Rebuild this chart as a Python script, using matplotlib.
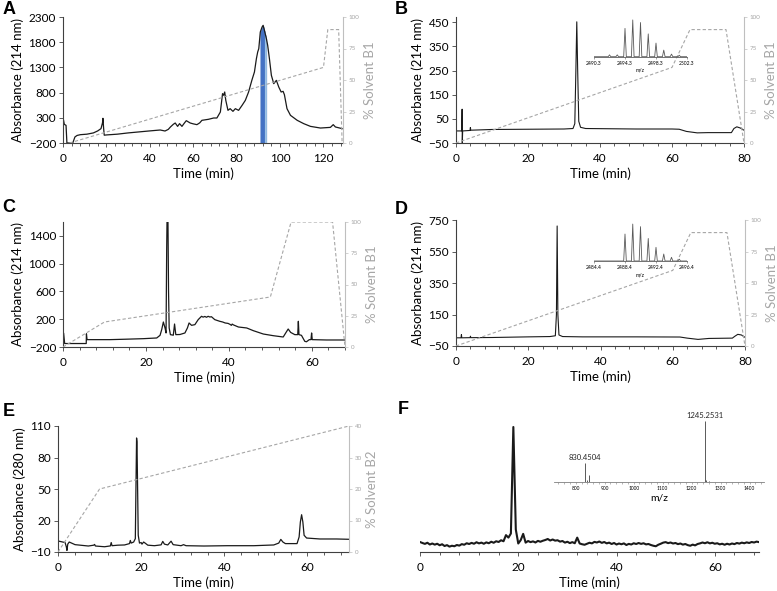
import numpy as np
import matplotlib
matplotlib.use("Agg")
import matplotlib.pyplot as plt
from matplotlib.ticker import MultipleLocator, FixedLocator

plt.rcParams['font.family'] = ['Lato', 'DejaVu Sans']

W, H = 777, 591

# ---- A: prep HPLC, 214 nm ----
A_time = [0, 0.2, 0.6, 1.4, 1.8, 4.5, 5.5, 6.5, 8, 11, 14, 16, 17.5, 18.2, 18.4,
          18.7, 19.0, 20, 25, 30, 35, 40, 44.8, 47, 48.5, 49.5, 50.8, 51.7, 52.8, 53.7,
          54.8, 56, 56.8, 58.6, 60, 61.7, 63, 64, 67, 69.4, 70.9, 72.5, 73.5, 74, 74.5,
          75, 76, 77, 78.3, 79.4, 80.9, 82.5, 84, 85.5, 87, 88.2, 89.1, 89.7, 90.2, 90.9,
          91.7, 92.2, 92.8, 93.7, 94.3, 95.1, 96, 97.1, 98.3, 99.4, 100.5, 101.4, 102,
          103.2, 104.8, 107.9, 110.9, 114, 118.6, 123.2, 124.5, 125.5, 128.6]
A_abs = [-100, 260, 170, 150, -200, -200, -80, -50, -35, -25, 0, 40, 85, 200, 290,
         100, -45, -40, -25, 0, 20, 40, 58, 38, 70, 118, 170, 197, 130, 184,
         130, 200, 243, 197, 180, 164, 200, 250, 270, 296, 296, 415, 779, 746, 812,
         646, 448, 481, 428, 481, 448, 547, 646, 812, 1043, 1209, 1473, 1606, 1672, 2002,
         2100, 2135, 2035, 1870, 1738, 1473, 1143, 977, 1043, 911, 812, 825, 759,
         481, 349, 250, 184, 130, 97, 110, 164, 118, 85]
A_fraction = (90.9, 93.7)
A_grad_t = [3, 120, 122, 127, 128.6]
A_grad_b = [0, 60, 90, 90, 0]

# ---- B: analytical, purified ----
B_time = [0, 1.6, 1.7, 1.75, 1.85, 3.9, 4.0, 4.1, 10, 20, 30, 32.5, 33.0, 33.3, 33.55,
          33.8, 34.1, 34.6, 36, 50, 60, 62, 64, 67, 70, 76.5, 77.2, 78, 79, 80]
B_abs = [0, 0, 90, -50, 0, 2, 14, 3, 6, 7, 8, 10, 30, 250, 452,
         250, 40, 15, 10, 8, 8, 7, -2, -8, -7, -7, 10, 17, 12, 3]
B_grad_t = [0, 60, 65, 75, 80]
B_grad_b = [0, 60, 90, 90, 0]
B_ms_mz = [2492.3, 2493.3, 2494.3, 2495.3, 2496.3, 2497.3, 2498.3, 2499.3, 2500.3, 2501.3]
B_ms_int = [5, 5, 77, 100, 93, 62, 37, 18, 7, 4]
B_ms_ticks = [2490.3, 2494.3, 2498.3, 2502.3]

# ---- C ----
C_time = [0, 0.15, 0.4, 5.6, 5.65, 5.8, 11.3, 15, 19.4, 22.6, 23.4, 23.8, 24.2, 24.6,
          24.85, 25.0, 25.1, 25.3, 25.45, 25.6, 25.9, 26.6, 26.9, 27.2, 28.2, 29.4,
          30.0, 30.4, 31.0, 31.8, 32.6, 33.4, 33.8, 34.2, 34.6, 35.0, 35.4, 35.8, 36.6,
          37.8, 38.5, 39.1, 39.8, 40.3, 40.6, 40.8, 41.1, 42.3, 44.3, 45.9, 48.3, 50.7,
          53.1, 53.7, 54.3, 54.9, 55.9, 56.6, 56.75, 56.9, 57.5, 58.3, 58.7, 59.4, 59.8,
          59.95, 60.1, 63.5, 68]
C_abs = [-100, 0, -150, -150, -10, -94, -94, -88, -80, -70, -32, 50, 160, 74,
         2, 1200, 1700, 1700, 600, 74, -22, -30, 131, -22, -20, 2,
         74, 146, 112, 122, 194, 242, 230, 240, 228, 242, 232, 236, 194,
         170, 160, 146, 140, 125, 112, 130, 118, 88, 74, 35, -13, -37,
         -56, 2, 59, 10, -22, -22, 170, -22, -32, -118, -125, -94, -94,
         2, -94, -99, -99]
C_grad_t = [0, 10, 50, 55, 65, 68]
C_grad_b = [0, 20, 40, 100, 100, 0]

# ---- D ----
D_time = [0, 1.4, 1.5, 1.6, 3.9, 4.0, 4.1, 10, 20, 26, 27.5, 27.8, 28.0, 28.2, 28.5,
          29.5, 35, 50, 62, 64, 67, 70, 76.5, 77.2, 78, 79, 80]
D_abs = [2, 2, 22, 2, 3, 12, 3, 4, 8, 10, 15, 150, 712, 150, 20,
         10, 8, 8, 7, 0, -8, -2, 0, 12, 24, 20, 5]
D_grad_t = [0, 60, 65, 75, 80]
D_grad_b = [0, 60, 90, 90, 0]
D_ms_mz = [2488.4, 2489.4, 2490.4, 2491.4, 2492.4, 2493.4, 2494.4, 2495.4]
D_ms_int = [73, 100, 93, 61, 37, 19, 10, 5]
D_ms_ticks = [2484.4, 2488.4, 2492.4, 2496.4]

# ---- E: 280 nm ----
E_time = [0, 1.7, 2.0, 2.15, 2.35, 2.7, 4.1, 7.3, 8.6, 8.8, 9.0, 11.2, 12.6, 12.8, 13.0,
          14.4, 16, 17.2, 17.4, 17.6, 18.2, 18.6, 18.9, 19.0, 19.3, 19.6, 20.0, 20.2,
          20.6, 20.95, 21.6, 23.2, 24.8, 25.2, 25.6, 26.4, 27.2, 27.7, 29.6, 30.2, 30.8,
          35.1, 40.7, 47.1, 51.9, 53.1, 53.6, 54.1, 54.7, 57.5, 58.0, 58.3, 58.6, 58.9,
          59.2, 59.8, 63, 67, 70]
E_abs = [0.5, -1, -5, -8.5, -2.5, -0.5, -3, -4.3, -3.5, -2.8, -4.3, -5, -4.2, -1.0, -4.0,
         -3.5, -3.3, -2.0, 1.0, -1.5, -0.5, 2.7, 98.6, 95, 6, -1.5, -1, -2.5,
         -0.5, -1.5, -3.5, -4, -3.2, 0.1, -2.5, -3.3, 0.3, -3, -4, -3, -4,
         -4.3, -4, -4, -3.3, -1.5, 2, -0.5, -2, -2, 4.3, 18.6, 25.5, 18.6,
         5.9, 3.3, 2.4, 2.4, 2.1]
E_grad_t = [0, 10, 70]
E_grad_b = [0, 20, 40]

# ---- F: LC-MS trace, sampled every 0.5 min ----
F_signal = [8.0, 7.2, 6.5, 7.4, 6.0, 6.8, 5.9, 6.6, 5.4, 6.2,
            4.8, 5.5, 4.3, 5.0, 4.6, 5.6, 5.1, 6.3, 5.8, 7.0,
            6.4, 7.3, 6.6, 7.8, 6.9, 7.5, 6.6, 7.7, 7.0, 8.2,
            7.4, 8.6, 8.0, 9.4, 8.6, 13.5, 11.5, 14.8, 100, 18,
            6.8, 9.5, 14.5, 7.5, 8.8, 7.9, 8.5, 7.6, 8.9, 8.2,
            9.0, 9.6, 10.4, 9.2, 10.0, 9.1, 9.4, 8.3, 8.8, 7.5,
            8.2, 7.1, 7.9, 7.0, 11.5, 6.8, 6.2, 5.8, 6.6, 7.4,
            6.9, 8.1, 7.6, 8.4, 7.3, 8.0, 6.9, 7.5, 6.4, 7.2,
            6.0, 6.8, 6.2, 6.9, 5.6, 6.5, 6.0, 7.0, 6.4, 7.2,
            6.5, 7.0, 6.1, 6.4, 5.6, 5.0, 4.6, 5.8, 6.6, 7.5,
            7.9, 7.1, 7.6, 6.8, 7.2, 6.3, 6.8, 5.9, 6.4, 5.5,
            5.0, 5.9, 5.3, 6.4, 6.9, 7.6, 7.0, 7.8, 6.9, 7.4,
            6.6, 7.0, 6.1, 6.6, 5.8, 6.6, 6.0, 6.8, 6.3, 7.2,
            6.7, 7.5, 7.0, 7.7, 7.2, 8.0, 7.6, 8.3, 7.9]
F_time = np.arange(len(F_signal)) * 0.5
F_ms_mz = [830.45, 838, 845.5, 1245.25, 1251, 1259]
F_ms_int = [31, 3, 12, 100, 3, 1.5]
F_ms_labels = {830.45: "830.4504", 1245.25: "1245.2531"}

TRACE = '#1a1a1a'
GRAD = '#a6a6a6'
RGRAY = '#a6a6a6'

fig = plt.figure(figsize=(W / 100, H / 100), dpi=100)


def add_px(left, top, right, bottom):
    return fig.add_axes([left / W, 1 - bottom / H, (right - left) / W, (bottom - top) / H])


def chrom(box, xmax, ylim, yticks, ylabel, rmax, rstep, rlabel, xticks):
    ax = add_px(*box)
    ax.set_xlim(0, xmax)
    ax.set_ylim(*ylim)
    ax.set_yticks(yticks)
    ax.xaxis.set_major_locator(FixedLocator(xticks))
    ax.xaxis.set_minor_locator(MultipleLocator(4))
    for s in ['top', 'right']:
        ax.spines[s].set_visible(False)
    ax.spines['left'].set_color('#404040')
    ax.spines['bottom'].set_color('#404040')
    ax.spines['left'].set_linewidth(0.8)
    ax.spines['bottom'].set_linewidth(0.8)
    ax.tick_params(which='both', direction='out', width=0.6, color='#404040')
    ax.tick_params(which='major', length=3, labelsize=8.5, pad=2)
    ax.tick_params(axis='x', which='minor', length=2.5)
    ax.tick_params(axis='x', which='major', pad=4)
    ax.set_xlabel('Time (min)', fontsize=9.5, labelpad=3)
    ax.set_ylabel(ylabel, fontsize=9.5, labelpad=3)
    ax2 = ax.twinx()
    ax2.set_ylim(0, rmax)
    ax2.set_yticks(np.arange(0, rmax + 1, rstep))
    for s in ['top', 'left', 'bottom']:
        ax2.spines[s].set_visible(False)
    ax2.spines['right'].set_color('#bfbfbf')
    ax2.spines['right'].set_linewidth(0.8)
    ax2.tick_params(axis='y', direction='out', length=2, width=0.5, color='#bfbfbf',
                    labelsize=4.5, labelcolor=RGRAY, pad=2)
    ax2.set_ylabel(rlabel, fontsize=9.5, color=RGRAY, labelpad=3)
    return ax, ax2


def ms_inset(box, mz, inten, ticks, ymax, half=0.17):
    ax = add_px(*box)
    ax.patch.set_visible(False)
    xs, ys = [ticks[0]], [0]
    for m, h in zip(mz, inten):
        xs += [m - half, m, m + half]
        ys += [0, h, 0]
    xs.append(ticks[-1])
    ys.append(0)
    ax.plot(xs, ys, color='#595959', lw=0.6)
    ax.set_xlim(ticks[0], ticks[-1])
    ax.set_ylim(0, ymax)
    for s in ['top', 'right', 'left']:
        ax.spines[s].set_visible(False)
    ax.spines['bottom'].set_color('#595959')
    ax.spines['bottom'].set_linewidth(0.6)
    ax.set_yticks([])
    ax.set_xticks(ticks)
    ax.set_xticklabels(['%.1f' % t for t in ticks])
    ax.tick_params(axis='x', length=1.5, width=0.4, color='#595959', labelsize=3.6, pad=1.5)
    ax.set_xlabel('m/z', fontsize=3.8, labelpad=1.5)
    return ax


def letter(x, y, s):
    fig.text(x / W, 1 - y / H, s, fontsize=13, fontweight='bold',
             family='Liberation Sans', ha='center', va='center')


# A
axA, axA2 = chrom((63, 17, 343, 143), 129, (-200, 2300), [-200, 300, 800, 1300, 1800, 2300],
                  'Absorbance (214 nm)', 100, 25, '% Solvent B1', [0, 20, 40, 60, 80, 100, 120])
tA = np.array(A_time)
aA = np.array(A_abs)
sel = (tA >= A_fraction[0]) & (tA <= A_fraction[1])
axA.fill_between(tA[sel], -200, aA[sel], color='#4472c4', lw=0.3, ec='#4472c4', zorder=1)
light = sel & (tA >= 92.8)
axA.fill_between(tA[light], -200, aA[light], color='#9dc3e6', lw=0, zorder=1.2)
axA.plot(A_time, A_abs, color=TRACE, lw=0.9, zorder=2)
axA2.plot(A_grad_t, A_grad_b, color=GRAD, lw=0.8, ls=(0, (3, 2)))

# B
axB, axB2 = chrom((456, 17, 744, 143), 80, (-50, 472), [-50, 50, 150, 250, 350, 450],
                  'Absorbance (214 nm)', 100, 25, '% Solvent B1', [0, 20, 40, 60, 80])
axB.plot(B_time, B_abs, color=TRACE, lw=0.8)
axB2.plot(B_grad_t, B_grad_b, color=GRAD, lw=0.8, ls=(0, (3, 2)))
ms_inset((594, 17, 687, 56.7), B_ms_mz, B_ms_int, B_ms_ticks, 108)

# C
axC, axC2 = chrom((63, 222, 345, 347), 68, (-200, 1600), [-200, 200, 600, 1000, 1400],
                  'Absorbance (214 nm)', 100, 25, '% Solvent B1', [0, 20, 40, 60])
axC.plot(C_time, C_abs, color=TRACE, lw=0.9)
axC2.plot(C_grad_t, C_grad_b, color=GRAD, lw=0.8, ls=(0, (3, 2)))

# D
axD, axD2 = chrom((456, 220, 745, 346), 80, (-50, 750), [-50, 150, 350, 550, 750],
                  'Absorbance (214 nm)', 100, 25, '% Solvent B1', [0, 20, 40, 60, 80])
axD.plot(D_time, D_abs, color=TRACE, lw=0.8)
axD2.plot(D_grad_t, D_grad_b, color=GRAD, lw=0.8, ls=(0, (3, 2)))
ms_inset((594, 220, 687, 261), D_ms_mz, D_ms_int, D_ms_ticks, 111)

# E
axE, axE2 = chrom((58, 426, 349, 552), 70, (-10, 110), [-10, 20, 50, 80, 110],
                  'Absorbance (280 nm)', 40, 10, '% Solvent B2', [0, 20, 40, 60])
axE.plot(E_time, E_abs, color=TRACE, lw=0.9)
axE2.plot(E_grad_t, E_grad_b, color=GRAD, lw=0.8, ls=(0, (3, 2)))

# F
axF = add_px(420, 420, 759, 552)
axF.plot(F_time, F_signal, color=TRACE, lw=1.5)
axF.set_xlim(0, 69)
axF.set_ylim(0, 105.6)
axF.set_yticks([])
for s in ['top', 'right', 'left']:
    axF.spines[s].set_visible(False)
axF.spines['bottom'].set_color('#404040')
axF.spines['bottom'].set_linewidth(0.8)
axF.xaxis.set_major_locator(FixedLocator([0, 20, 40, 60]))
axF.xaxis.set_minor_locator(MultipleLocator(4))
axF.tick_params(which='both', direction='out', width=0.6, color='#404040')
axF.tick_params(which='major', length=3, labelsize=8.5, pad=4)
axF.tick_params(axis='x', which='minor', length=2.5)
axF.set_xlabel('Time (min)', fontsize=9.5, labelpad=3)

axFi = add_px(554, 418, 764, 482)
axFi.patch.set_visible(False)
axFi.vlines(F_ms_mz, 0, F_ms_int, color='#595959', lw=0.7)
axFi.set_xlim(725, 1450)
axFi.set_ylim(0, 105)
for s in ['top', 'right', 'left']:
    axFi.spines[s].set_visible(False)
axFi.spines['bottom'].set_color('#7f7f7f')
axFi.spines['bottom'].set_linewidth(0.6)
axFi.set_yticks([])
axFi.xaxis.set_major_locator(MultipleLocator(100))
axFi.xaxis.set_minor_locator(MultipleLocator(20))
axFi.tick_params(axis='x', which='both', length=1.2, width=0.4, color='#7f7f7f',
                 labelsize=3.5, pad=1.5)
axFi.set_xlabel('m/z', fontsize=7.5, labelpad=2)
for m, h in zip(F_ms_mz, F_ms_int):
    if m in F_ms_labels:
        axFi.annotate(F_ms_labels[m], (m, h), xytext=(0, 1.5), textcoords='offset points',
                      ha='center', va='bottom', fontsize=5.5, color='#262626')

letter(9, 9, 'A')
letter(401, 10, 'B')
letter(9, 208, 'C')
letter(401, 210, 'D')
letter(9, 411, 'E')
letter(403, 409, 'F')

fig.savefig('out.png', dpi=100)
